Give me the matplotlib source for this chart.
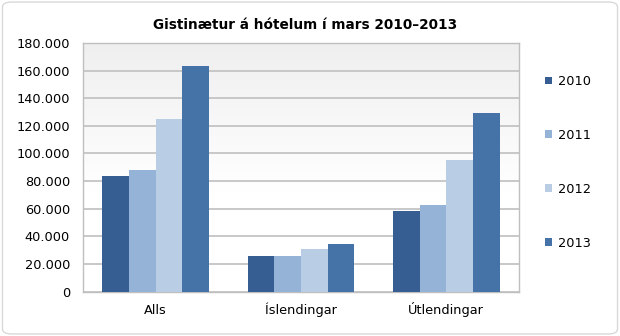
import numpy as np
from matplotlib import pyplot as plt
from matplotlib.colors import LinearSegmentedColormap
from matplotlib.patches import FancyBboxPatch
from matplotlib.ticker import FuncFormatter

categories = ["Alls", "Íslendingar", "Útlendingar"]
years = ["2010", "2011", "2012", "2013"]
v2010 = [83500, 25600, 58000]
v2011 = [88000, 25600, 62400]
v2012 = [124800, 30500, 94900]
v2013 = [163300, 34100, 129400]
colors = ["#375E93", "#95B3D7", "#B9CDE5", "#4573A8"]

series = [v2010, v2011, v2012, v2013]

fig = plt.figure(figsize=(6.2, 3.36), dpi=100)
ax = fig.add_axes([0.134, 0.1324, 0.703, 0.7396])

# grey at the top fading to white lower down
t = np.linspace(0, 1, 512).reshape(-1, 1)
grad = np.clip((t - 0.4) / 0.6, 0, 1)
bg = LinearSegmentedColormap.from_list("bg", ["#ffffff", "#efefef"])
ax.imshow(grad, cmap=bg, extent=[-0.5, 2.5, 0, 180000], aspect="auto",
          origin="lower", interpolation="bilinear", zorder=0)

x = np.arange(len(categories))
w = 0.736 / 4
for i, (vals, c, yr) in enumerate(zip(series, colors, years)):
    ax.bar(x + (i - 1.5) * w, vals, width=w, color=c, label=yr, zorder=3)

ax.set_xlim(-0.5, 2.5)
ax.set_ylim(0, 180000)
ax.set_yticks(range(0, 180001, 20000))
ax.yaxis.set_major_formatter(FuncFormatter(lambda v, p: f"{int(v):,}".replace(",", ".")))
ax.set_xticks(x)
ax.set_xticklabels(categories)
ax.grid(axis="y", color="#c4c4c4", linewidth=1.3, zorder=1)
ax.tick_params(length=0, labelsize=9.3, colors="#000000")
ax.tick_params(axis="x", pad=16)
ax.tick_params(axis="y", pad=9.4)
# keep the category names on one baseline despite the accents
for lbl in ax.get_xticklabels():
    lbl.set_verticalalignment("baseline")
for s in ax.spines.values():
    s.set_color("#bfbfbf")
    s.set_linewidth(1.0)

fig.text(0.492, 0.925, "Gistinætur á hótelum í mars 2010–2013", ha="center", va="center",
         fontsize=9.8, fontweight="bold")

leg = ax.legend(loc="center left", bbox_to_anchor=(0.868, 0.517), bbox_transform=fig.transFigure,
                frameon=False, fontsize=9.3, borderpad=0, handlelength=0.55, handleheight=0.55,
                handletextpad=0.45, labelspacing=3.16)

fig.patches.append(FancyBboxPatch((0.004, 0.006), 0.992, 0.988, boxstyle="round,pad=0,rounding_size=0.015",
                                  transform=fig.transFigure, fill=False, edgecolor="#d9d9d9", linewidth=1.0))

fig.savefig("out.png", dpi=100)
